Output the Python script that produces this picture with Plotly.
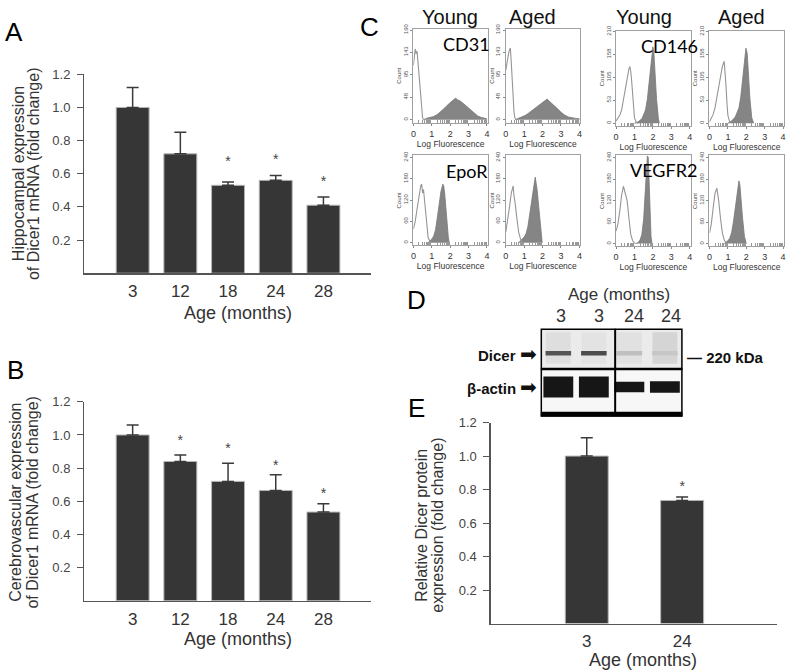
import plotly.graph_objects as go

W, H = 787, 671

# ---------------- data ----------------
ages_mrna = ["3", "12", "18", "24", "28"]
hippo_mean = [1.00, 0.72, 0.53, 0.56, 0.41]
hippo_sem = [0.12, 0.13, 0.02, 0.03, 0.05]
hippo_star = [None, None, 0.67, 0.68, 0.55]

cereb_mean = [1.00, 0.84, 0.72, 0.665, 0.535]
cereb_sem = [0.06, 0.04, 0.11, 0.095, 0.05]
cereb_star = [None, 0.96, 0.91, 0.81, 0.64]

ages_protein = ["3", "24"]
protein_mean = [1.00, 0.735]
protein_sem = [0.11, 0.02]
protein_star = [None, 0.81]

blot_lanes = ["3", "3", "24", "24"]
dicer_intensity = [0.75, 0.80, 0.22, 0.18]
actin_thickness = [0.24, 0.24, 0.12, 0.13]

# flow cytometry histograms (log fluorescence, count)
cd31_y_ctrl_x = [0, 0.05, 0.1, 0.15, 0.2, 0.25, 0.3, 0.35, 0.4, 0.45, 0.5, 0.55]
cd31_y_ctrl_y = [115, 135, 150, 140, 145, 122, 95, 70, 45, 20, 5, 0]
cd31_y_pos_x = [0.55, 0.7, 0.9, 1.1, 1.3, 1.5, 1.7, 1.9, 2.1, 2.2, 2.3, 2.4, 2.5, 2.7, 2.9, 3.1, 3.3, 3.5, 3.7, 3.9, 4.0]
cd31_y_pos_y = [0, 3, 5, 7, 11, 17, 25, 33, 40, 43, 46, 42, 41, 35, 28, 20, 13, 8, 5, 3, 2]
cd31_a_ctrl_x = [0, 0.05, 0.1, 0.15, 0.2, 0.25, 0.3, 0.35, 0.4, 0.45, 0.5, 0.55]
cd31_a_ctrl_y = [105, 120, 130, 140, 148, 152, 120, 80, 45, 15, 3, 0]
cd31_a_pos_x = [0.5, 0.7, 0.9, 1.1, 1.3, 1.5, 1.7, 1.9, 2.0, 2.1, 2.25, 2.4, 2.6, 2.8, 3.0, 3.2, 3.4, 3.6, 3.8, 4.0]
cd31_a_pos_y = [0, 3, 6, 10, 16, 22, 28, 33, 38, 40, 44, 38, 32, 24, 16, 10, 6, 4, 3, 2]

cd146_y_ctrl_x = [0, 0.1, 0.2, 0.3, 0.4, 0.5, 0.6, 0.7, 0.75, 0.8, 0.85, 0.9, 0.95, 1.0, 1.1, 1.2]
cd146_y_ctrl_y = [5, 12, 18, 30, 55, 85, 110, 125, 130, 118, 95, 60, 30, 12, 2, 0]
cd146_y_pos_x = [1.0, 1.2, 1.4, 1.6, 1.7, 1.8, 1.9, 2.0, 2.05, 2.1, 2.2, 2.3, 2.35]
cd146_y_pos_y = [0, 3, 10, 30, 55, 95, 140, 175, 165, 120, 55, 10, 0]
cd146_a_ctrl_x = [0, 0.1, 0.2, 0.3, 0.4, 0.5, 0.6, 0.7, 0.8, 0.85, 0.9, 0.95, 1.0, 1.1, 1.2]
cd146_a_ctrl_y = [3, 10, 20, 35, 60, 90, 115, 130, 142, 120, 85, 45, 18, 3, 0]
cd146_a_pos_x = [1.0, 1.2, 1.4, 1.6, 1.7, 1.8, 1.9, 1.98, 2.05, 2.1, 2.2, 2.3, 2.4]
cd146_a_pos_y = [0, 5, 14, 35, 60, 100, 145, 172, 160, 120, 55, 12, 0]

epor_y_ctrl_x = [0, 0.1, 0.2, 0.3, 0.4, 0.45, 0.5, 0.55, 0.6, 0.7, 0.8, 0.9, 1.0]
epor_y_ctrl_y = [38, 60, 95, 130, 160, 165, 140, 150, 120, 60, 15, 3, 0]
epor_y_pos_x = [0.8, 0.9, 1.0, 1.1, 1.2, 1.3, 1.4, 1.5, 1.6, 1.65, 1.7, 1.8, 1.9, 1.95]
epor_y_pos_y = [0, 4, 10, 18, 35, 70, 110, 145, 165, 160, 140, 70, 15, 0]
epor_a_ctrl_x = [0, 0.1, 0.2, 0.3, 0.35, 0.4, 0.45, 0.5, 0.6, 0.7, 0.8, 0.9, 1.0]
epor_a_ctrl_y = [30, 60, 100, 140, 155, 160, 130, 115, 70, 30, 10, 2, 0]
epor_a_pos_x = [0.7, 0.8, 0.9, 1.0, 1.1, 1.2, 1.3, 1.4, 1.5, 1.6, 1.7, 1.8, 1.9, 1.98]
epor_a_pos_y = [0, 5, 10, 16, 25, 45, 80, 120, 150, 185, 150, 90, 30, 0]

vegfr2_y_ctrl_x = [0, 0.1, 0.2, 0.3, 0.4, 0.45, 0.5, 0.6, 0.7, 0.8, 0.9, 1.0, 1.1]
vegfr2_y_ctrl_y = [35, 55, 90, 135, 160, 150, 145, 120, 70, 25, 8, 2, 0]
vegfr2_y_pos_x = [1.1, 1.2, 1.3, 1.4, 1.5, 1.6, 1.65, 1.7, 1.75, 1.8, 1.85, 1.9, 1.95]
vegfr2_y_pos_y = [0, 3, 10, 25, 70, 150, 210, 245, 240, 150, 70, 20, 0]
vegfr2_a_ctrl_x = [0, 0.1, 0.2, 0.3, 0.4, 0.45, 0.5, 0.6, 0.7, 0.8, 0.9, 1.0]
vegfr2_a_ctrl_y = [30, 55, 100, 140, 155, 140, 120, 70, 30, 10, 3, 0]
vegfr2_a_pos_x = [0.8, 0.9, 1.0, 1.1, 1.2, 1.3, 1.4, 1.5, 1.6, 1.65, 1.7, 1.8, 1.9, 2.0]
vegfr2_a_pos_y = [0, 3, 8, 15, 30, 60, 100, 145, 175, 165, 130, 70, 20, 0]

cd31_ticks = [0, 48, 95, 143, 190]
cd146_ticks = [0, 53, 105, 158, 210]
r2_ticks = [0, 60, 120, 180, 240]
log_ticks = [0, 1, 2, 3, 4]
column_heads = ["Young", "Aged", "Young", "Aged"]
markers = ["CD31", "CD146", "EpoR", "VEGFR2"]

# ---------------- helpers ----------------
FONT = "Liberation Sans, Arial, sans-serif"
fig = go.Figure()
layout = dict(width=W, height=H, margin=dict(l=0, r=0, t=0, b=0),
              paper_bgcolor="white", plot_bgcolor="rgba(0,0,0,0)",
              showlegend=False, barmode="overlay",
              font=dict(family=FONT, color="#333"))
annotations = []
shapes = []


def dx(l, r):
    return [l / W, r / W]


def dy(top, bottom):
    return [1 - bottom / H, 1 - top / H]


def ax(i):
    return ("x" if i == 1 else f"x{i}"), ("y" if i == 1 else f"y{i}")


def lk(i):
    return ("xaxis" if i == 1 else f"xaxis{i}"), ("yaxis" if i == 1 else f"yaxis{i}")


def text(x, y, s, size, color="#333", xanchor="center", angle=0, family=FONT, yanchor="middle"):
    annotations.append(dict(x=x / W, y=1 - y / H, xref="paper", yref="paper", text=s,
                            showarrow=False, xanchor=xanchor, yanchor=yanchor, textangle=angle,
                            font=dict(size=size, color=color, family=family)))


def bar_panel(i, cats, mean, sem, star, xd, yd, xr, bw):
    xa, ya = ax(i)
    n = len(cats)
    xs = list(range(n))
    fig.add_trace(go.Bar(x=xs, y=mean, width=bw, xaxis=xa, yaxis=ya,
                         marker=dict(color="#363636", line=dict(color="#b4b4b4", width=1)),
                         error_y=dict(type="data", symmetric=False, array=sem, arrayminus=[0] * n,
                                      color="#3a3a3a", thickness=1.5, width=6)))
    sx = [k for k in xs if star[k] is not None]
    sy = [star[k] for k in sx]
    fig.add_trace(go.Scatter(x=sx, y=sy, mode="text", text=["*"] * len(sx), xaxis=xa, yaxis=ya,
                             textfont=dict(size=14, color="#444")))
    kx, ky = lk(i)
    layout[kx] = dict(domain=xd, range=xr, anchor=ya, showline=True, linecolor="#555", linewidth=1.5,
                      showgrid=False, zeroline=False, tickvals=xs, ticktext=cats,
                      ticks="outside", ticklen=2, tickcolor="rgba(0,0,0,0)",
                      tickfont=dict(size=17, color="#333"), fixedrange=True)
    layout[ky] = dict(domain=yd, range=[0, 1.2], anchor=xa, showline=True, linecolor="#555",
                      linewidth=1.5, showgrid=False, zeroline=False,
                      tickvals=[0.2, 0.4, 0.6, 0.8, 1.0, 1.2], tickformat=".1f",
                      ticks="outside", ticklen=6, tickcolor="#555", ticklabelstandoff=4,
                      tickfont=dict(size=13, color="#444"))


# ---------------- A ----------------
bar_panel(1, ages_mrna, hippo_mean, hippo_sem, hippo_star, dx(82, 370), dy(68, 269), [-1.01, 4.99], 0.69)
text(11, 25, "A", 26, "#000")
text(15, 168, "Hippocampal expression", 16, angle=-90)
text(30, 168, "of Dicer1 mRNA (fold change)", 16, angle=-90)
text(236, 309, "Age (months)", 18)

# ---------------- B ----------------
bar_panel(2, ages_mrna, cereb_mean, cereb_sem, cereb_star, dx(82, 370), dy(399, 600), [-1.01, 4.99], 0.69)
text(13, 367, "B", 26, "#000")
text(13, 500, "Cerebrovascular expression", 16, angle=-90)
text(30, 500, "of Dicer1 mRNA (fold change)", 16, angle=-90)
text(236, 639, "Age (months)", 18)

# ---------------- E ----------------
bar_panel(3, ages_protein, protein_mean, protein_sem, protein_star, dx(491, 779), dy(420, 623), [-1.005, 1.995], 0.45)
text(416, 405, "E", 26, "#000")
text(421, 524, "Relative Dicer protein", 16, angle=-90)
text(437, 524, "expression (fold change)", 16, angle=-90)
text(644, 660, "Age (months)", 18)

# ---------------- D (western blot) ----------------
xa, ya = ax(4)
lanes = [1, 2, 3, 4]
layout["xaxis4"] = dict(domain=dx(541, 684), range=[0.5, 4.5], anchor="y4", visible=False, fixedrange=True)
layout["yaxis4"] = dict(domain=dy(325, 414), range=[0, 1], anchor="x4", visible=False, fixedrange=True)
shapes.append(dict(type="rect", xref="x4", yref="y4", x0=0.5, x1=4.5, y0=0.54, y1=1,
                   fillcolor="#ebebeb", line=dict(width=0), layer="below"))
shapes.append(dict(type="rect", xref="x4", yref="y4", x0=0.5, x1=4.5, y0=0.056, y1=0.54,
                   fillcolor="#f7f7f7", line=dict(width=0), layer="below"))
smear_alpha = [0.07, 0.04, 0.06, 0.12]
fig.add_trace(go.Bar(x=lanes, y=[0.36] * 4, base=[0.6] * 4, width=0.7, xaxis=xa, yaxis=ya,
                     marker=dict(color=[f"rgba(60,60,60,{a})" for a in smear_alpha], line=dict(width=0))))
fig.add_trace(go.Bar(x=lanes, y=[0.05] * 4, base=[0.695] * 4, width=0.72, xaxis=xa, yaxis=ya,
                     marker=dict(color=[f"rgb({int(235 - v * 200)},{int(235 - v * 200)},{int(235 - v * 200)})"
                                        for v in dicer_intensity], line=dict(width=0))))
fig.add_trace(go.Bar(x=lanes, y=actin_thickness, base=[0.337 - t / 2 for t in actin_thickness],
                     width=0.84, xaxis=xa, yaxis=ya,
                     marker=dict(color="#161616", line=dict(width=0))))
shapes.append(dict(type="rect", xref="x4", yref="y4", x0=0.5, x1=4.5, y0=0, y1=0.056,
                   fillcolor="#000", line=dict(width=0)))
shapes.append(dict(type="rect", xref="x4", yref="y4", x0=0.5, x1=4.5, y0=0, y1=1,
                   line=dict(color="#000", width=3)))
shapes.append(dict(type="line", xref="x4", yref="y4", x0=0.5, x1=4.5, y0=0.54, y1=0.54,
                   line=dict(color="#000", width=2.5)))
shapes.append(dict(type="line", xref="x4", yref="y4", x0=2.6, x1=2.6, y0=0.05, y1=1,
                   line=dict(color="#000", width=2)))
text(416, 296, "D", 26, "#000")
text(620, 291, "Age (months)", 17)
for lx, lab in zip([562, 600, 635, 672], blot_lanes):
    text(lx, 312, lab, 18)
text(539, 351, "<b>Dicer</b> <span style='font-size:20px'>➡</span>", 15, "#111", xanchor="right")
text(539, 384, "<b>β-actin</b> <span style='font-size:20px'>➡</span>", 15, "#111", xanchor="right")
text(686, 354, "<b>— 220 kDa</b>", 15, "#111", xanchor="left")

# ---------------- C (flow cytometry) ----------------
panels = [
    (cd31_y_ctrl_x, cd31_y_ctrl_y, cd31_y_pos_x, cd31_y_pos_y, cd31_ticks, (413, 488), (22, 117), [-6.3, 192.7], "CD31"),
    (cd31_a_ctrl_x, cd31_a_ctrl_y, cd31_a_pos_x, cd31_a_pos_y, cd31_ticks, (506, 581), (22, 117), [-6.3, 192.7], None),
    (cd146_y_ctrl_x, cd146_y_ctrl_y, cd146_y_pos_x, cd146_y_pos_y, cd146_ticks, (617, 692), (24, 120), [-6, 212], "CD146"),
    (cd146_a_ctrl_x, cd146_a_ctrl_y, cd146_a_pos_x, cd146_a_pos_y, cd146_ticks, (711, 786), (24, 120), [-6, 212], None),
    (epor_y_ctrl_x, epor_y_ctrl_y, epor_y_pos_x, epor_y_pos_y, r2_ticks, (413, 488), (150, 241), [-8, 246], "EpoR"),
    (epor_a_ctrl_x, epor_a_ctrl_y, epor_a_pos_x, epor_a_pos_y, r2_ticks, (506, 581), (150, 241), [-8, 246], None),
    (vegfr2_y_ctrl_x, vegfr2_y_ctrl_y, vegfr2_y_pos_x, vegfr2_y_pos_y, r2_ticks, (617, 692), (150, 242), [-8, 246], "VEGFR2"),
    (vegfr2_a_ctrl_x, vegfr2_a_ctrl_y, vegfr2_a_pos_x, vegfr2_a_pos_y, r2_ticks, (711, 786), (150, 242), [-8, 246], None),
]
minor_vals = []
for dec in range(4):
    for m in [0.301, 0.477, 0.602, 0.699, 0.778, 0.845, 0.903, 0.954]:
        minor_vals.append(dec + m)

for k, (cx, cy, px, py, yt, (l, r), (t, b), yr, lab) in enumerate(panels):
    i = 5 + k
    xa, ya = ax(i)
    fig.add_trace(go.Scatter(x=px, y=py, mode="lines", fill="tozeroy", fillcolor="#858585",
                             line=dict(color="#777", width=0.8), xaxis=xa, yaxis=ya))
    fig.add_trace(go.Scatter(x=cx, y=cy, mode="lines", line=dict(color="#959595", width=1.1),
                             xaxis=xa, yaxis=ya))
    layout[f"xaxis{i}"] = dict(domain=dx(l, r), range=[0, 4.05], anchor=ya, showline=True, mirror=True,
                               linecolor="#a0a0a0", linewidth=1, showgrid=False, zeroline=False,
                               tickvals=log_ticks, ticks="outside", ticklen=2, tickcolor="#888",
                               tickfont=dict(size=9, color="#333"),
                               minor=dict(tickvals=minor_vals, ticks="inside", ticklen=3, tickcolor="#999"),
                               title=dict(text="Log Fluorescence", font=dict(size=8.5, color="#333"), standoff=1))
    layout[f"yaxis{i}"] = dict(domain=dy(t, b), range=yr, anchor=xa, showline=True, mirror=True,
                               linecolor="#a0a0a0", linewidth=1, showgrid=False, zeroline=False,
                               tickvals=yt, tickangle=-90, ticks="outside", ticklen=2, tickcolor="#888",
                               tickfont=dict(size=6, color="#555"),
                               title=dict(text="Count", font=dict(size=6, color="#444"), standoff=0))
    if lab:
        text((l + r) / 2 + 16 if lab != "VEGFR2" else (l + r) / 2 + 10, t + 15 if lab != "EpoR" else t + 16,
             lab, 18, "#000", family="Lato, Open Sans, sans-serif")

for xh, h in zip([450, 533, 645, 743], column_heads):
    text(xh, 10, h, 20, "#111")
text(369, 20, "C", 26, "#000")

layout["annotations"] = annotations
layout["shapes"] = shapes
fig.update_layout(**layout)
fig.write_html(
    "out.html",
    config={"displayModeBar": False, "staticPlot": True},
    post_script=("document.body.style.margin='0';document.body.style.padding='0';"
                 "var d=document.getElementById('{plot_id}');"
                 "d.style.position='absolute';d.style.top='0px';d.style.left='0px';"),
)
